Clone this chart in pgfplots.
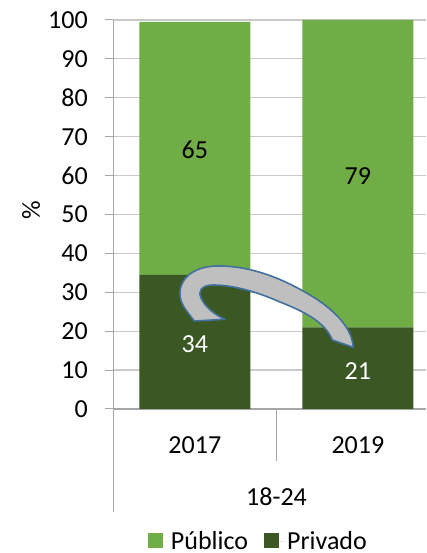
\documentclass[border=0pt]{standalone}
\usepackage{pgfplots}
\pgfplotsset{compat=1.18}
\usepackage{fontspec}
\setmainfont{Carlito}
\definecolor{pub}{HTML}{70AD47}
\definecolor{pri}{HTML}{3B5723}
\definecolor{gridc}{HTML}{C9C9C9}
\definecolor{axc}{HTML}{A6A6A6}
\definecolor{arrowb}{HTML}{41719C}
\definecolor{arrowf}{HTML}{BFBFBF}
\newcommand{\lf}{\fontsize{26}{31}\selectfont}
\pgfplotstableread{
x pub pri
0 65 34.5
1 79 21
}\datatable
\begin{document}
\begin{tikzpicture}[x=1pt,y=1pt]
\useasboundingbox (0,0) rectangle (426,553);
\begin{axis}[
  at={(113.3pt,144pt)}, anchor=south west,
  scale only axis, width=312.7pt, height=389pt,
  ybar stacked, bar width=111pt,
  xmin=-0.5, xmax=1.418, ymin=0, ymax=100,
  ytick={0,10,...,100}, xtick={0,1}, xticklabels={2017,2019},
  axis x line*=bottom, axis y line*=left,
  axis line style={draw=axc,line width=1.3pt,-},
  ymajorgrids, grid style={draw=gridc,line width=1.2pt},
  tick align=outside, major tick length=8pt,
  y tick style={draw=axc,line width=1pt},
  x tick style={draw=none},
  tick label style={font=\lf},
  /pgf/number format/assume math mode=true,
  yticklabel style={xshift=-14pt},
  xticklabel style={yshift=-16pt},
  ylabel={\%}, ylabel style={font=\lf,at={(axis description cs:-0.263,0.51)},anchor=center},
  xlabel={18-24}, xlabel style={font=\lf,at={(axis description cs:0.522,0)},anchor=center,yshift=-88pt},
  clip=false,
  legend columns=2,
  legend style={draw=none,fill=none,at={(axis description cs:0.464,-0.340)},anchor=center,
    font=\lf,nodes={inner ysep=0pt},/tikz/every even column/.append style={column sep=14pt}},
  legend image code/.code={\path (0pt,0pt) -- (21pt,0pt);\fill[#1] (0pt,-6.5pt) rectangle (15pt,8.5pt);},
]
\addplot[fill=pri,draw=none,forget plot] table[x=x,y=pri]{\datatable};
\addplot[fill=pub,draw=none,forget plot] table[x=x,y=pub]{\datatable};
\addlegendimage{fill=pub,draw=none}\addlegendentry{Público}
\addlegendimage{fill=pri,draw=none}\addlegendentry{Privado}
\draw[axc,line width=1pt] (axis cs:-0.5,0) -- (axis cs:-0.5,-26.5);
\draw[axc,line width=1pt] (axis cs:0.5,0) -- (axis cs:0.5,-13.4);
\coordinate (a) at (axis cs:0,66.6);
\coordinate (b) at (axis cs:1,60);
\coordinate (c) at (axis cs:0,16.7);
\coordinate (d) at (axis cs:1,9.8);
\end{axis}
\node[font=\lf,text=black] at (a) {65};
\node[font=\lf,text=black] at (b) {79};
\node[font=\lf,text=white] at (c) {34};
\node[font=\lf,text=white] at (d) {21};
\begin{scope}[shift={(0,553)},yscale=-1]
\draw[draw=arrowb,fill=arrowf,line width=1.6pt,line join=round]
 (225,319.3) -- (194.3,321)
 .. controls (186,310) and (179,303) .. (180,291)
 .. controls (182,275) and (198,265) .. (222,266)
 .. controls (255,267) and (285,280) .. (310,295)
 .. controls (335,310) and (352,328) .. (353.3,347.3)
 -- (332.3,340)
 .. controls (325,322) and (305,312) .. (280,302)
 .. controls (255,291) and (232,285) .. (213,285)
 .. controls (200,285) and (198,293) .. (201,298)
 .. controls (205,307) and (215,315) .. (225,319.3)
 -- cycle;
\end{scope}
\end{tikzpicture}
\end{document}
